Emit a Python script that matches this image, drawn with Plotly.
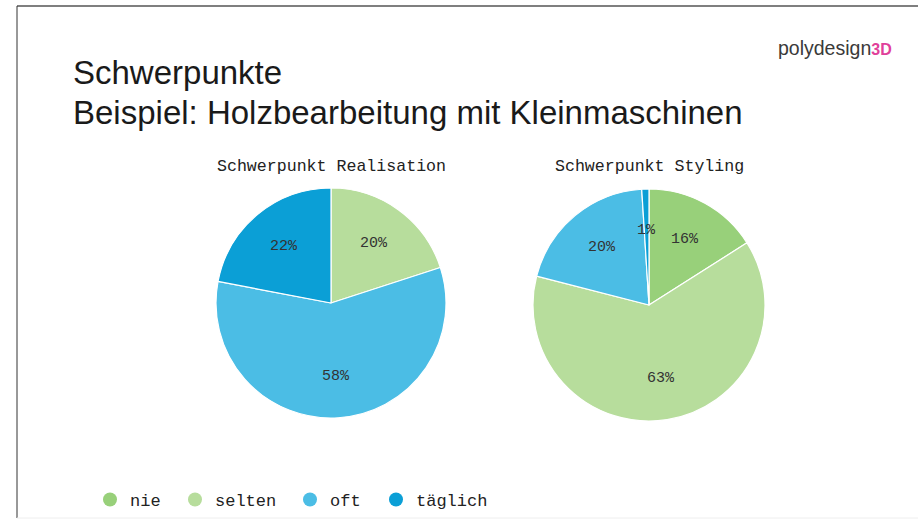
import math
import plotly.graph_objects as go

categories = ["nie", "selten", "oft", "täglich"]
realisation_values = [0, 20, 58, 22]
styling_values = [16, 63, 20, 1]
chart_titles = ["Schwerpunkt Realisation", "Schwerpunkt Styling"]
colors = ["#98d07a", "#b7dd9c", "#4bbde5", "#0b9fd6"]

W, H = 918, 522
MONO = "Liberation Mono, Courier New, monospace"
SANS = "Liberation Sans, Arial, Helvetica, sans-serif"

# pie placement in pixels: (center x, center y, radius)
pie_geo = [(331, 303, 115), (649, 305, 116)]


def px_dom(cx, cy, r):
    return dict(x=[(cx - r) / W, (cx + r) / W], y=[1 - (cy + r) / H, 1 - (cy - r) / H])


fig = go.Figure()
annotations = []

for vals, (cx, cy, r), title in zip([realisation_values, styling_values], pie_geo, chart_titles):
    fig.add_trace(go.Pie(
        labels=categories,
        values=vals,
        textinfo="none",
        marker=dict(colors=colors, line=dict(color="white", width=1.2)),
        sort=False,
        direction="clockwise",
        rotation=0,
        domain=px_dom(cx, cy, r),
        showlegend=False,
        hoverinfo="label+percent",
    ))
    # percentage labels placed at the middle angle of each slice
    total = sum(vals)
    cum = 0
    for v in vals:
        if v > 0:
            mid = (cum + v / 2) / total * 2 * math.pi
            lx = cx + 0.64 * r * math.sin(mid)
            ly = cy - 0.64 * r * math.cos(mid)
            annotations.append(dict(
                text=f"{round(v / total * 100)}%", x=lx / W, y=1 - ly / H,
                xanchor="center", yanchor="middle",
                font=dict(family=MONO, size=15, color="#333333")))
        cum += v
    annotations.append(dict(text=title, x=cx / W, y=1 - 166 / H, xanchor="center", yanchor="middle",
                            font=dict(family=MONO, size=16.6, color="#222222")))

legend_x = [90, 175, 290, 376]
legend_layout = {}
for i, (name, c, lx) in enumerate(zip(categories, colors, legend_x)):
    key = "legend" if i == 0 else f"legend{i + 1}"
    fig.add_trace(go.Scatter(
        x=[None], y=[None], mode="markers", name=name, legend=key,
        marker=dict(symbol="circle", size=14, color=c),
    ))
    legend_layout[key] = dict(orientation="h", x=lx / W, y=1 - 500 / H, xanchor="left", yanchor="middle",
                              font=dict(family=MONO, size=17, color="#222222"),
                              bgcolor="rgba(0,0,0,0)")

annotations += [
    dict(text="Schwerpunkte", x=71 / W, y=1 - 72 / H, xanchor="left", yanchor="middle",
         font=dict(family=SANS, size=33, color="#1a1a1a")),
    dict(text="Beispiel: Holzbearbeitung mit Kleinmaschinen", x=71 / W, y=1 - 112 / H,
         xanchor="left", yanchor="middle", font=dict(family=SANS, size=33, color="#1a1a1a")),
    dict(text="polydesign<b><span style='color:#e0409a;font-size:16px'>3D</span></b>",
         x=894 / W, y=1 - 48 / H, xanchor="right", yanchor="middle",
         font=dict(family=SANS, size=19.5, color="#3a3a3a")),
]
for a in annotations:
    a.update(xref="paper", yref="paper", showarrow=False)

fig.update_layout(
    width=W, height=H,
    margin=dict(l=0, r=0, t=0, b=0),
    paper_bgcolor="white", plot_bgcolor="white",
    xaxis=dict(visible=False), yaxis=dict(visible=False),
    annotations=annotations,
    shapes=[
        dict(type="line", xref="paper", yref="paper", x0=17 / W, x1=1, y0=1 - 6 / H, y1=1 - 6 / H,
             line=dict(color="#555555", width=1.5)),
        dict(type="line", xref="paper", yref="paper", x0=17 / W, x1=17 / W, y0=1 - 6 / H, y1=1 - 518 / H,
             line=dict(color="#333333", width=1)),
        dict(type="line", xref="paper", yref="paper", x0=17 / W, x1=1, y0=1 - 518 / H, y1=1 - 518 / H,
             line=dict(color="#eeeeee", width=1)),
    ],
    **legend_layout,
)

fig.write_html("out.html", config={"displayModeBar": False},
               post_script="document.body.style.margin='0';")
